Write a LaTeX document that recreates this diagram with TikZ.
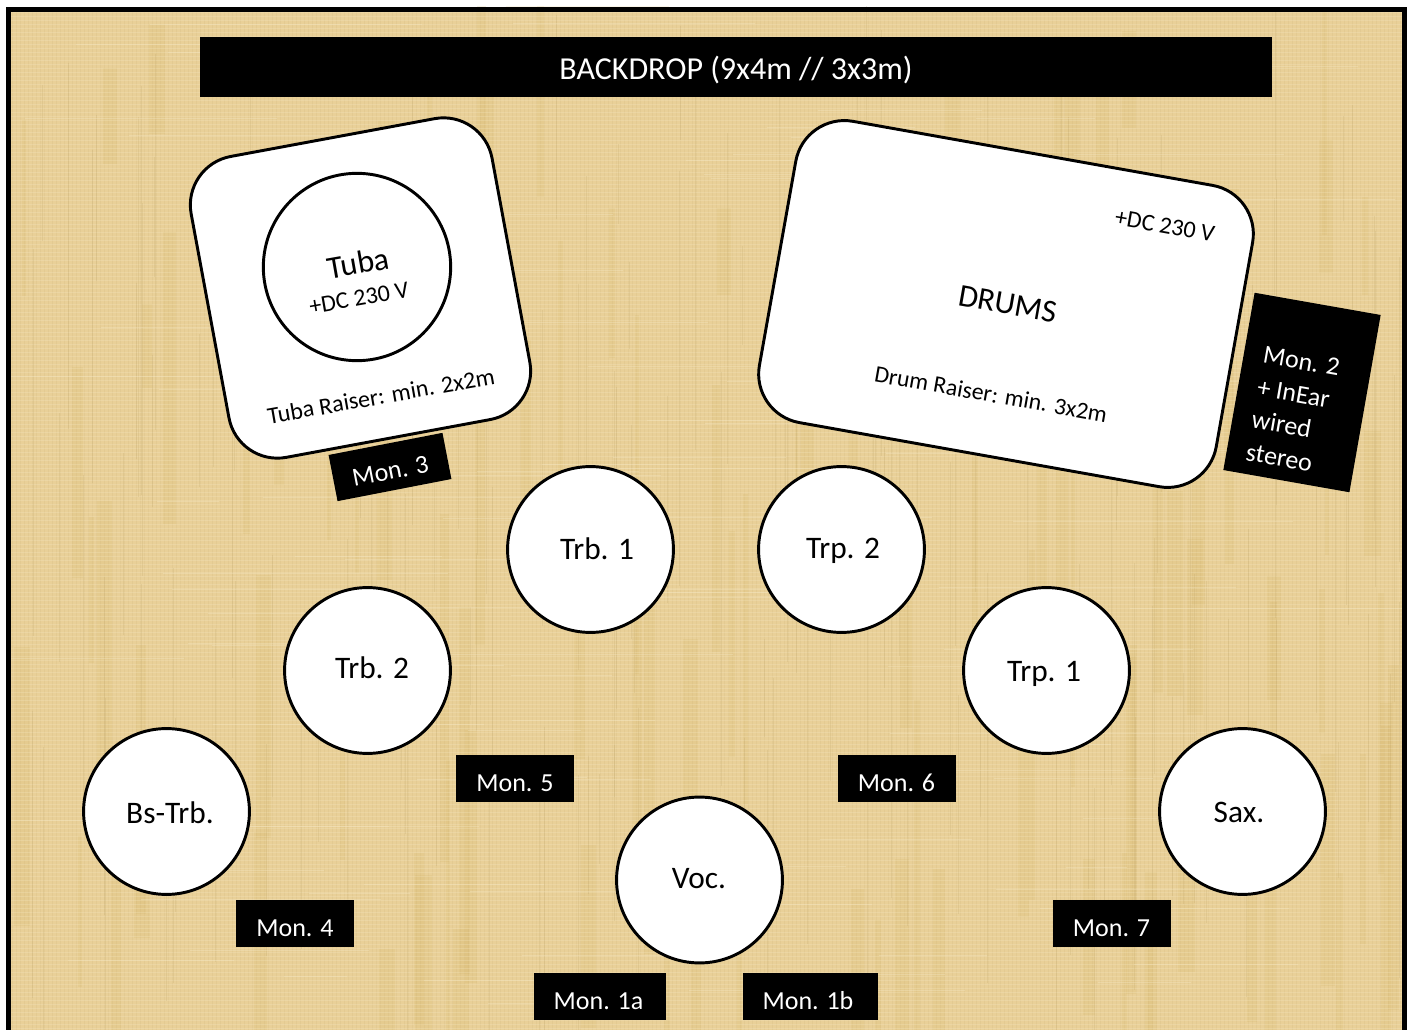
\documentclass[tikz,border=0pt]{standalone}
\usepackage{fontspec}
\setmainfont{Carlito}
\definecolor{papyrus}{HTML}{E9D098}
\definecolor{fibreA}{HTML}{D4B566}
\definecolor{fibreB}{HTML}{F6E8C4}
\definecolor{fibreC}{HTML}{B49A60}
\tikzset{
  px/.style={x=0.75pt,y=-0.75pt},
  seat/.style={circle,draw=black,line width=2.2pt,fill=white,minimum size=124.4pt,inner sep=0pt},
  seatlabel/.style={inner sep=0pt,font=\fontsize{23.5}{28}\selectfont},
  monbox/.style={fill=black,minimum height=35.25pt,inner sep=0pt},
  monlabel/.style={text=white,inner sep=0pt,font=\fontsize{19.5}{23}\selectfont},
  raiser/.style={draw=black,line width=2.2pt,fill=white,rounded corners=37pt,inner sep=0pt},
  smalltext/.style={inner sep=0pt,font=\fontsize{18}{21}\selectfont},
  bigtext/.style={inner sep=0pt,font=\fontsize{24}{28}\selectfont},
}
\begin{document}
\begin{tikzpicture}[px]
\useasboundingbox (0,0) rectangle (1413,1030);
\fill[white] (0,0) rectangle (1413,1030);
\begin{scope}
\clip (6,7) rectangle (1407,1030);
\fill[papyrus] (6,7) rectangle (1407,1030);
\pgfmathsetseed{4711}
% narrow soft vertical bands
\foreach \i in {1,...,110}{
  \pgfmathsetmacro{\xa}{rnd*1413}
  \pgfmathsetmacro{\wa}{3+rnd*14}
  \pgfmathsetmacro{\ya}{rnd*950}
  \pgfmathsetmacro{\ha}{80+rnd*300}
  \fill[fibreA,opacity=0.17] (\xa,\ya) rectangle ++(\wa,\ha);
}
% regular fine weave
\foreach \xa in {12,16,...,1404}{
  \draw[fibreC,opacity=0.10,line width=0.4pt] (\xa,7) -- (\xa,1030);
}
\foreach \ya in {12,16,...,1030}{
  \draw[fibreB,opacity=0.28,line width=0.4pt] (6,\ya) -- (1407,\ya);
}
% irregular fine fibres
\foreach \i in {1,...,160}{
  \pgfmathsetmacro{\xa}{rnd*1413}
  \pgfmathsetmacro{\ya}{rnd*800}
  \pgfmathsetmacro{\ha}{80+rnd*350}
  \draw[fibreC,opacity=0.18,line width=0.5pt] (\xa,\ya) -- ++(0,\ha);
}
\foreach \i in {1,...,120}{
  \pgfmathsetmacro{\xa}{rnd*1200}
  \pgfmathsetmacro{\ya}{rnd*1030}
  \pgfmathsetmacro{\wa}{60+rnd*250}
  \draw[fibreB,opacity=0.35,line width=0.5pt] (\xa,\ya) -- ++(\wa,0);
}
\end{scope}
% outer frame (bottom edge runs off the page)
\coordinate (frameA) at (8.5,1040);
\coordinate (frameB) at (8.5,9.5);
\coordinate (frameC) at (1404.5,9.5);
\coordinate (frameD) at (1404.5,1040);
\draw[black,line width=3.75pt,line join=miter] (frameA) -- (frameB) -- (frameC) -- (frameD);

\node[fill=black,inner sep=0pt,minimum width=804pt,minimum height=45pt] (backdrop) at (736,67) {};
\node[text=white,inner sep=0pt,font=\fontsize{24}{28}\selectfont] (backdropt) at (736,70) {BACKDROP (9x4m // 3x3m)};

\node[raiser,minimum width=229.5pt,minimum height=229.5pt,rotate=10.5] (tubaraiser) at (360.5,288) {};
\node[seat,minimum size=140.5pt] (tubaseat) at (357,267) {};
\node[bigtext,rotate=10] (tubalabel) at (358,263) {Tuba};
\node[smalltext,rotate=10] (tubapower) at (359,298) {+DC 230 V};
\node[smalltext,rotate=10] (tubatext) at (381,396) {Tuba Raiser: min. 2x2m};

\node[raiser,minimum width=348pt,minimum height=229.5pt,rotate=-10.1] (drumraiser) at (1006,304) {};
\node[bigtext,rotate=-10] (drumlabel) at (1008,304) {DRUMS};
\node[smalltext,rotate=-10] (drumpower) at (1165,226) {+DC 230 V};
\node[smalltext,rotate=-10,font=\fontsize{17.8}{21}\selectfont] (drumtext) at (991,394) {Drum Raiser: min. 3x2m};

\node[monbox,minimum width=87pt,rotate=11] (mon3) at (390,467) {};
\node[monlabel,rotate=11] (mon3t) at (390.5,471) {Mon. 3};
\node[monbox,minimum width=96pt,minimum height=135pt,rotate=-10] (mon2) at (1302,392.5) {};
\node[monlabel,rotate=-10,align=left,font=\fontsize{19.5}{24.7}\selectfont] (mon2t) at (1293,410) {Mon. 2\\+ InEar\\wired\\stereo};

\node[seat] (trb1) at (590.5,549.5) {};
\node[seat] (trp2) at (841.5,549.5) {};
\node[seat] (trb2) at (367.5,670.5) {};
\node[seat] (trp1) at (1046.5,670.5) {};
\node[seat] (bstrb) at (166.5,811.5) {};
\node[seat] (sax) at (1242.5,811.5) {};
\node[seat] (voc) at (699.5,880) {};
\node[seatlabel] (trb1t) at (597,549) {Trb. 1};
\node[seatlabel] (trp2t) at (843,551) {Trp. 2};
\node[seatlabel] (trb2t) at (372,668) {Trb. 2};
\node[seatlabel] (trp1t) at (1044,674) {Trp. 1};
\node[seatlabel] (bstrbt) at (170,813) {Bs-Trb.};
\node[seatlabel] (saxt) at (1239,812) {Sax.};
\node[seatlabel] (voct) at (699,879) {Voc.};

\node[monbox,minimum width=88.5pt] (mon5) at (515,778.5) {};
\node[monbox,minimum width=88.5pt] (mon6) at (897,778.5) {};
\node[monbox,minimum width=88.5pt] (mon4) at (295,923.5) {};
\node[monbox,minimum width=88.5pt] (mon7) at (1112,923.5) {};
\node[monbox,minimum width=99pt] (mon1a) at (600,996.5) {};
\node[monbox,minimum width=101pt] (mon1b) at (810.5,996.5) {};
\node[monlabel] (mon5t) at (515,783) {Mon. 5};
\node[monlabel] (mon6t) at (896.5,783) {Mon. 6};
\node[monlabel] (mon4t) at (295,928) {Mon. 4};
\node[monlabel] (mon7t) at (1111.5,928) {Mon. 7};
\node[monlabel] (mon1at) at (598.5,1001) {Mon. 1a};
\node[monlabel] (mon1bt) at (808,1001) {Mon. 1b};
\end{tikzpicture}
\end{document}
